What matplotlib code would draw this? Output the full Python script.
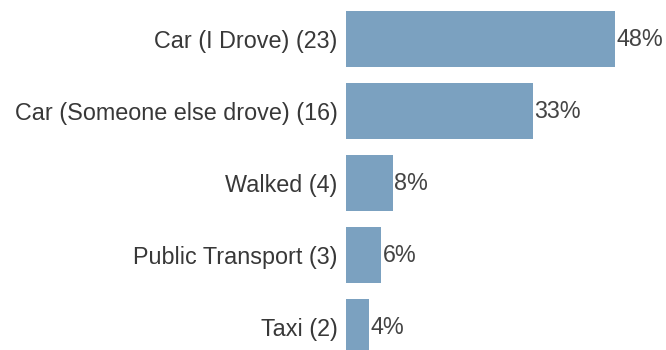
import matplotlib.pyplot as plt
import numpy as np

plt.rcParams["font.family"] = ["Liberation Sans", "DejaVu Sans"]

modes = ["Car (I Drove)", "Car (Someone else drove)", "Walked", "Public Transport", "Taxi"]
counts = [23, 16, 4, 3, 2]

total = sum(counts)
labels = [f"{m} ({c})" for m, c in zip(modes, counts)]
shares = [c / total * 100 for c in counts]

fig = plt.figure(figsize=(6.66, 3.5), dpi=100)
ax = fig.add_axes([346 / 666, 0, 320 / 666, 1])

y = np.arange(len(counts))
ax.barh(y, counts, height=0.785, color="#7ba1c0", edgecolor="none")

for yi, c, s in zip(y, counts, shares):
    ax.text(c + 0.12, yi, f"{s:.0f}%", va="center", ha="left", fontsize=16.8, color="#444444")

ax.set_xlim(0, 27.35)
ax.set_ylim(4.319, -0.542)
ax.set_yticks(y)
ax.set_yticklabels(labels, fontsize=16.8, color="#383838")
ax.tick_params(axis="y", length=0, pad=6)
ax.set_xticks([])
for spine in ax.spines.values():
    spine.set_visible(False)

fig.savefig("out.png", dpi=100)
